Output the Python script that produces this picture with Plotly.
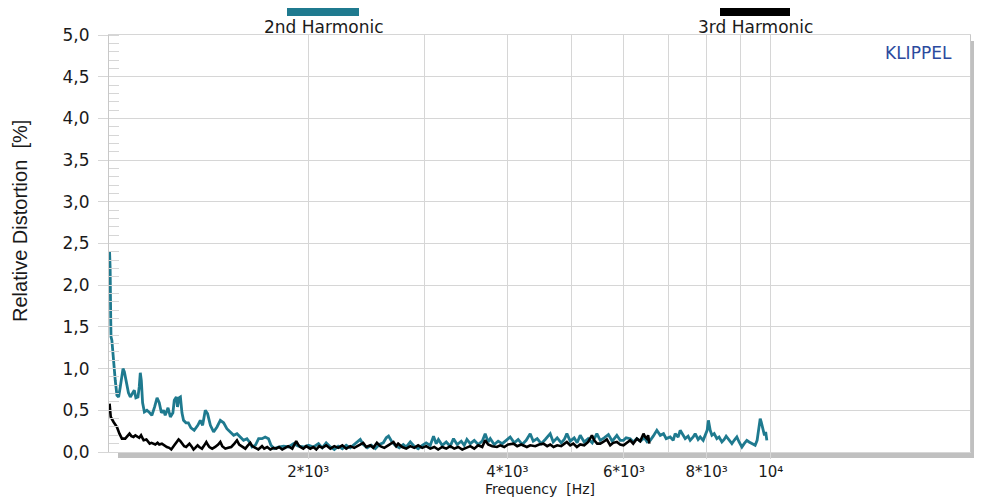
import plotly.graph_objects as go

# ---- data ----
freq_h2 = [1002, 1004, 1006, 1007, 1010, 1016, 1022, 1028, 1034, 1040, 1050, 1055, 1062, 1070, 1077,
           1086, 1092, 1098, 1106, 1111, 1115, 1119, 1124, 1131, 1141, 1152, 1161, 1172, 1182, 1191,
           1200, 1209, 1216, 1228, 1238, 1249, 1255, 1264, 1269, 1276, 1282, 1289, 1296, 1307, 1318,
           1330, 1345, 1362, 1374, 1385, 1398, 1409, 1423, 1439, 1456, 1473, 1490, 1507, 1525, 1543,
           1561, 1579, 1597, 1616, 1630, 1645, 1664, 1683, 1703, 1722, 1742, 1757, 1777, 1803, 1836,
           1867, 1901, 1933, 1968, 2002, 2038, 2073, 2100, 2129, 2160, 2190, 2220, 2252, 2283, 2315,
           2347, 2380, 2397, 2422, 2456, 2491, 2526, 2561, 2597, 2624, 2645, 2677, 2707, 2746, 2784,
           2813, 2853, 2892, 2932, 2974, 3015, 3058, 3093, 3122, 3146, 3188, 3233, 3278, 3316, 3358,
           3406, 3442, 3474, 3515, 3564, 3613, 3664, 3702, 3740, 3768, 3820, 3873, 3928, 3983, 4039,
           4096, 4152, 4211, 4270, 4330, 4376, 4436, 4499, 4562, 4642, 4691, 4756, 4823, 4874, 4919,
           4977, 5046, 5098, 5153, 5225, 5297, 5373, 5460, 5524, 5601, 5684, 5760, 5853, 5922, 5990,
           6046, 6132, 6196, 6275, 6349, 6438, 6504, 6574, 6643, 6727, 6807, 6885, 6949, 7048, 7121,
           7170, 7244, 7297, 7373, 7424, 7500, 7555, 7634, 7687, 7766, 7823, 7904, 7959, 8013, 8049,
           8100, 8148, 8213, 8289, 8354, 8436, 8503, 8562, 8650, 8735, 8804, 8886, 8956, 9044, 9116,
           9200, 9272, 9364, 9471, 9536, 9578, 9638, 9672, 9716, 9783, 9824, 9864]
dist_h2 = [2.40, 2.20, 1.60, 1.38, 1.34, 1.07, 0.86, 0.68, 0.66, 0.78, 1.00, 0.96, 0.83, 0.71, 0.66,
           0.72, 0.74, 0.65, 0.66, 0.78, 0.95, 0.86, 0.59, 0.48, 0.50, 0.47, 0.44, 0.54, 0.65, 0.59,
           0.47, 0.50, 0.44, 0.53, 0.42, 0.47, 0.62, 0.66, 0.54, 0.65, 0.66, 0.47, 0.38, 0.35, 0.35,
           0.29, 0.26, 0.32, 0.38, 0.32, 0.50, 0.46, 0.32, 0.24, 0.30, 0.38, 0.35, 0.28, 0.24, 0.20,
           0.22, 0.18, 0.14, 0.16, 0.12, 0.06, 0.08, 0.16, 0.16, 0.18, 0.16, 0.08, 0.04, 0.06, 0.07,
           0.06, 0.10, 0.07, 0.06, 0.08, 0.06, 0.10, 0.05, 0.11, 0.06, 0.03, 0.07, 0.04, 0.08, 0.05,
           0.09, 0.13, 0.15, 0.09, 0.05, 0.08, 0.04, 0.09, 0.11, 0.17, 0.19, 0.12, 0.08, 0.05, 0.09,
           0.06, 0.12, 0.07, 0.04, 0.08, 0.11, 0.08, 0.19, 0.10, 0.15, 0.08, 0.12, 0.07, 0.16, 0.09,
           0.13, 0.08, 0.15, 0.10, 0.14, 0.09, 0.13, 0.22, 0.12, 0.16, 0.09, 0.13, 0.10, 0.14, 0.18,
           0.11, 0.15, 0.09, 0.14, 0.22, 0.13, 0.16, 0.10, 0.15, 0.22, 0.12, 0.17, 0.11, 0.15, 0.22,
           0.13, 0.17, 0.11, 0.20, 0.12, 0.16, 0.11, 0.22, 0.14, 0.17, 0.21, 0.13, 0.20, 0.14, 0.14,
           0.17, 0.16, 0.12, 0.16, 0.13, 0.17, 0.12, 0.14, 0.19, 0.26, 0.20, 0.22, 0.16, 0.18, 0.14,
           0.22, 0.18, 0.26, 0.20, 0.16, 0.19, 0.14, 0.18, 0.22, 0.15, 0.18, 0.14, 0.20, 0.26, 0.38,
           0.26, 0.20, 0.22, 0.16, 0.18, 0.12, 0.15, 0.19, 0.14, 0.10, 0.14, 0.18, 0.12, 0.06, 0.10,
           0.14, 0.12, 0.10, 0.08, 0.14, 0.24, 0.40, 0.36, 0.30, 0.20, 0.24, 0.14]

freq_h3 = [1002, 1004, 1006, 1016, 1028, 1037, 1046, 1058, 1065, 1074, 1081, 1089, 1096, 1104, 1111,
           1118, 1128, 1139, 1152, 1159, 1168, 1175, 1184, 1191, 1202, 1212, 1223, 1233, 1242, 1255,
           1264, 1274, 1282, 1289, 1299, 1308, 1323, 1332, 1342, 1350, 1361, 1369, 1382, 1393, 1403,
           1412, 1418, 1432, 1447, 1462, 1473, 1483, 1499, 1514, 1530, 1547, 1561, 1573, 1590, 1607,
           1618, 1635, 1646, 1664, 1681, 1703, 1716, 1734, 1753, 1773, 1789, 1807, 1827, 1846, 1865,
           1892, 1918, 1931, 1946, 1966, 1986, 2014, 2036, 2057, 2078, 2100, 2129, 2160, 2190, 2220,
           2252, 2283, 2315, 2347, 2380, 2422, 2447, 2482, 2508, 2540, 2570, 2606, 2642, 2691, 2716,
           2735, 2774, 2813, 2853, 2892, 2932, 2974, 3015, 3058, 3101, 3143, 3188, 3233, 3278, 3324,
           3370, 3418, 3465, 3515, 3564, 3613, 3664, 3702, 3740, 3794, 3856, 3901, 3956, 4010, 4086,
           4138, 4197, 4280, 4330, 4406, 4466, 4535, 4593, 4642, 4696, 4756, 4823, 4919, 4977, 5029,
           5093, 5153, 5225, 5297, 5367, 5410, 5466, 5524, 5582, 5653, 5720, 5780, 5853, 5922, 5990,
           6046, 6132, 6196, 6275, 6349, 6422, 6460, 6497, 6526, 6555]
dist_h3 = [0.58, 0.48, 0.42, 0.36, 0.30, 0.22, 0.16, 0.16, 0.19, 0.22, 0.19, 0.18, 0.20, 0.18, 0.17,
           0.20, 0.14, 0.15, 0.10, 0.11, 0.10, 0.09, 0.11, 0.09, 0.10, 0.08, 0.06, 0.05, 0.03, 0.08,
           0.12, 0.15, 0.13, 0.10, 0.07, 0.06, 0.10, 0.07, 0.03, 0.05, 0.08, 0.06, 0.04, 0.08, 0.12,
           0.08, 0.06, 0.04, 0.06, 0.09, 0.12, 0.07, 0.04, 0.05, 0.06, 0.10, 0.14, 0.09, 0.06, 0.04,
           0.07, 0.11, 0.07, 0.05, 0.03, 0.07, 0.04, 0.06, 0.03, 0.05, 0.04, 0.06, 0.03, 0.05, 0.07,
           0.04, 0.13, 0.09, 0.06, 0.04, 0.07, 0.04, 0.06, 0.03, 0.07, 0.05, 0.08, 0.04, 0.07, 0.05,
           0.08, 0.04, 0.07, 0.05, 0.08, 0.11, 0.06, 0.08, 0.05, 0.11, 0.07, 0.05, 0.08, 0.12, 0.07,
           0.10, 0.06, 0.04, 0.07, 0.05, 0.08, 0.05, 0.07, 0.04, 0.06, 0.03, 0.06, 0.04, 0.07, 0.04,
           0.06, 0.03, 0.05, 0.07, 0.04, 0.08, 0.06, 0.14, 0.09, 0.07, 0.06, 0.08, 0.06, 0.09, 0.10,
           0.07, 0.09, 0.06, 0.08, 0.07, 0.09, 0.10, 0.07, 0.09, 0.06, 0.08, 0.07, 0.12, 0.08, 0.10,
           0.06, 0.09, 0.08, 0.12, 0.20, 0.14, 0.10, 0.10, 0.12, 0.15, 0.08, 0.11, 0.12, 0.09, 0.08,
           0.10, 0.14, 0.10, 0.16, 0.13, 0.22, 0.18, 0.16, 0.20, 0.10]

x_tickvals = [2000, 4000, 6000, 8000, 10000]
x_ticktext = ["2*10³", "4*10³", "6*10³", "8*10³", "10⁴"]
x_minor_grid = [3000, 5000, 7000, 9000]
series_names = ["2nd Harmonic", "3rd Harmonic"]

# ---- styles ----
TEAL = "#1F7A8F"
BLACK = "#000000"
GRID = "#d6d6d6"
SHADOW = "#c0c0c0"
FONT = "DejaVu Sans"
TXT = "#1a1a1a"

fig = go.Figure()
fig.add_trace(go.Scatter(x=freq_h2, y=dist_h2, mode="lines", name=series_names[0],
                         line=dict(color=TEAL, width=2.8)))
fig.add_trace(go.Scatter(x=freq_h3, y=dist_h3, mode="lines", name=series_names[1],
                         line=dict(color=BLACK, width=2.6)))

# the page body has an 8px margin, so the figure is drawn at (8, 8)
OFF = 8
W, H = 982 - OFF, 497 - OFF
L, R, T, B = 109 - OFF, 12, 35 - OFF, 45
pw, ph = W - L - R, H - T - B


def px(xp):  # page pixel x -> paper fraction
    return (xp - OFF - L) / pw


def py(yp):  # page pixel y -> paper fraction
    return (H - B - (yp - OFF)) / ph


fig.update_layout(
    width=W, height=H,
    margin=dict(l=L, r=R, t=T, b=B, autoexpand=False),
    paper_bgcolor="white", plot_bgcolor="white",
    showlegend=False,
    separators=",.",
    font=dict(family=FONT, size=15, color=TXT),
    xaxis=dict(
        type="log", range=[3, 4.30103], automargin=False,
        tickmode="array", tickvals=x_tickvals, ticktext=x_ticktext,
        ticks="outside", ticklen=6, tickcolor=GRID,
        showgrid=True, gridcolor=GRID, gridwidth=1,
        minor=dict(tickmode="array", tickvals=x_minor_grid, showgrid=True,
                   gridcolor=GRID, ticks=""),
        showline=True, linecolor=GRID, mirror=True,
        tickfont=dict(family=FONT, size=15, color=TXT),
        zeroline=False,
    ),
    yaxis=dict(
        range=[0, 5], dtick=0.5, tick0=0, tickformat=".1f", automargin=False,
        ticks="outside", ticklen=10, tickcolor=GRID, ticklabelstandoff=5,
        showgrid=True, gridcolor=GRID, gridwidth=1,
        minor=dict(dtick=0.1, ticks="inside", ticklen=10, tickcolor=GRID, showgrid=False),
        showline=True, linecolor="#c8c8c8", mirror=True,
        tickfont=dict(family=FONT, size=17, color=TXT),
        zeroline=False,
    ),
)

# shadow of the plot frame
fig.add_shape(type="rect", xref="paper", yref="paper", layer="below",
              x0=1 + 1 / pw, x1=1 + 9 / pw, y0=-6 / ph, y1=1 - 6 / ph,
              fillcolor=SHADOW, line=dict(width=0))
fig.add_shape(type="rect", xref="paper", yref="paper", layer="below",
              x0=9 / pw, x1=1 + 9 / pw, y0=-6 / ph, y1=-1 / ph,
              fillcolor=SHADOW, line=dict(width=0))

# legend bars and labels above the plot
for name, color, xc, x0, x1 in [(series_names[0], TEAL, 323, 287, 359),
                                (series_names[1], BLACK, 755, 720, 790)]:
    fig.add_shape(type="rect", xref="paper", yref="paper",
                  x0=px(x0), x1=px(x1), y0=py(16), y1=py(8),
                  fillcolor=color, line=dict(width=0))
    fig.add_annotation(text=name, xref="paper", yref="paper", x=px(xc), y=py(27),
                       xanchor="center", yanchor="middle", showarrow=False,
                       font=dict(family=FONT, size=17, color=TXT))

# axis titles
fig.add_annotation(text="Frequency\u00a0\u00a0[Hz]", xref="paper", yref="paper",
                   x=px(540), y=py(489), xanchor="center", yanchor="middle",
                   showarrow=False, font=dict(family=FONT, size=14, color=TXT))
fig.add_annotation(text="Relative Distortion\u00a0\u00a0[%]", xref="paper", yref="paper",
                   x=px(20), y=py(221), textangle=-90, xanchor="center", yanchor="middle",
                   showarrow=False, font=dict(family="Liberation Sans", size=20, color=TXT))

# brand label
fig.add_annotation(text="KLIPPEL", xref="paper", yref="paper", x=px(954), y=py(53),
                   xanchor="right", yanchor="middle", showarrow=False,
                   font=dict(family=FONT, size=17, color="#2b4a9e"))

fig.write_html("out.html")
